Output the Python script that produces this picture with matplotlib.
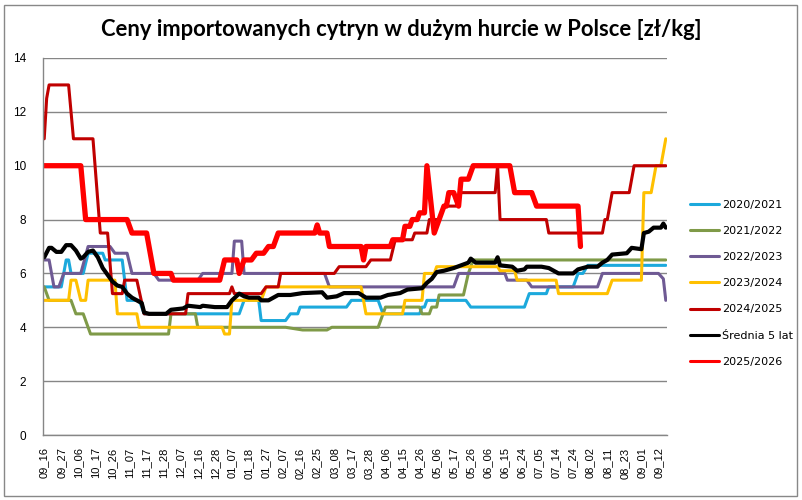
import numpy as np
import matplotlib.pyplot as plt
from matplotlib.patches import Rectangle

# x labels (every 7th point of the daily series)
labels = ["09_16", "09_27", "10_06", "10_17", "10_26", "11_07", "11_17", "11_28",
          "12_07", "12_16", "12_28", "01_07", "01_18", "01_27", "02_07", "02_16",
          "02_25", "03_08", "03_17", "03_28", "04_06", "04_15", "04_26", "05_06",
          "05_17", "05_26", "06_06", "06_15", "06_24", "07_05", "07_14", "07_24",
          "08_02", "08_11", "08_23", "09_01", "09_12"]
n_points = 256

# each series: point index where price changes, price [zl/kg]
x_2020 = [0, 7, 9, 10, 11, 16, 18, 24, 25, 32, 34, 39, 41, 80, 82, 88, 89, 99, 101, 104,
          105, 124, 126, 137, 139, 154, 155, 156, 157, 173, 175, 197, 199, 206, 207, 217,
          219, 221, 223, 255]
y_2020 = [5.5, 5.5, 6.5, 6.5, 6.0, 6.0, 6.75, 6.75, 6.5, 6.5, 5.0, 5.0, 4.5, 4.5, 5.0, 5.0,
          4.25, 4.25, 4.5, 4.5, 4.75, 4.75, 5.0, 5.0, 4.5, 4.5, 4.75, 4.75, 5.0, 5.0, 4.75,
          4.75, 5.25, 5.25, 5.5, 5.5, 6.0, 6.0, 6.3, 6.3]

x_2021 = [0, 2, 11, 13, 16, 19, 51, 52, 62, 63, 99, 106, 116, 118, 137, 140, 154, 155, 158,
          159, 161, 162, 172, 174, 176, 255]
y_2021 = [5.5, 5.0, 5.0, 4.5, 4.5, 3.75, 3.75, 4.5, 4.5, 4.0, 4.0, 3.9, 3.9, 4.0, 4.0, 4.75,
          4.75, 4.5, 4.5, 4.75, 4.75, 5.2, 5.2, 6.0, 6.5, 6.5]

x_2022 = [0, 2, 4, 6, 8, 15, 18, 27, 29, 34, 36, 45, 47, 63, 65, 77, 78, 81, 82, 115, 117,
          168, 170, 189, 190, 198, 200, 227, 229, 252, 254, 255]
y_2022 = [6.5, 6.5, 5.5, 5.5, 6.0, 6.0, 7.0, 7.0, 6.75, 6.75, 6.0, 6.0, 5.75, 5.75, 6.0, 6.0,
          7.2, 7.2, 6.0, 6.0, 5.5, 5.5, 6.0, 6.0, 5.75, 5.75, 5.5, 5.5, 6.0, 6.0, 5.8, 5.0]

x_2023 = [0, 10, 11, 13, 15, 17, 18, 29, 30, 38, 39, 73, 74, 76, 77, 89, 91, 130, 132, 147,
          148, 155, 156, 160, 161, 186, 187, 193, 194, 210, 211, 231, 233, 245, 246, 249,
          251, 253, 255]
y_2023 = [5.0, 5.0, 5.75, 5.75, 5.0, 5.0, 5.75, 5.75, 4.5, 4.5, 4.0, 4.0, 3.75, 3.75, 5.0,
          5.0, 5.5, 5.5, 4.5, 4.5, 5.0, 5.0, 6.0, 6.0, 6.25, 6.25, 6.1, 6.1, 5.75, 5.75, 5.25,
          5.25, 5.75, 5.75, 9.0, 9.0, 10.0, 10.0, 11.0]

x_2024 = [0, 1, 2, 10, 12, 20, 23, 26, 28, 32, 33, 38, 41, 58, 59, 76, 77, 78, 89, 91, 96,
          97, 119, 121, 132, 134, 142, 144, 151, 152, 157, 158, 162, 164, 169, 171, 185,
          186, 187, 206, 207, 229, 230, 231, 233, 240, 242, 255]
y_2024 = [11.0, 12.5, 13.0, 13.0, 11.0, 11.0, 7.5, 7.5, 5.25, 5.25, 5.75, 5.75, 4.5, 4.5,
          5.25, 5.25, 5.5, 5.25, 5.25, 5.5, 5.5, 6.0, 6.0, 6.25, 6.25, 6.5, 6.5, 7.25, 7.25,
          7.5, 7.5, 8.0, 8.0, 8.5, 8.5, 9.0, 9.0, 10.0, 8.0, 8.0, 7.5, 7.5, 8.0, 8.0, 9.0,
          9.0, 10.0, 10.0]

x_avg = [0, 2, 3, 5, 7, 9, 11, 13, 15, 16, 18, 20, 22, 24, 26, 28, 30, 32, 34, 36, 38, 40,
         41, 43, 50, 52, 57, 59, 64, 65, 70, 75, 77, 80, 82, 84, 88, 89, 92, 94, 96, 101,
         106, 114, 116, 120, 123, 129, 132, 138, 141, 146, 149, 155, 157, 159, 161, 164,
         168, 171, 174, 175, 177, 185, 186, 187, 192, 194, 197, 198, 204, 207, 211, 217,
         219, 223, 227, 229, 231, 233, 239, 241, 245, 246, 248, 250, 253, 254, 255]
y_avg = [6.6, 6.95, 6.95, 6.8, 6.8, 7.05, 7.05, 6.85, 6.55, 6.6, 6.8, 6.85, 6.6, 6.2, 5.95,
         5.7, 5.55, 5.5, 5.25, 5.1, 5.0, 4.9, 4.55, 4.5, 4.5, 4.65, 4.7, 4.8, 4.75, 4.8, 4.75,
         4.75, 5.0, 5.25, 5.15, 5.1, 5.1, 5.0, 5.0, 5.1, 5.2, 5.2, 5.27, 5.3, 5.1, 5.15, 5.27,
         5.27, 5.1, 5.1, 5.2, 5.27, 5.4, 5.45, 5.65, 5.8, 6.05, 6.1, 6.2, 6.3, 6.4, 6.55, 6.4,
         6.4, 6.6, 6.3, 6.25, 6.1, 6.15, 6.25, 6.25, 6.2, 6.0, 6.0, 6.15, 6.25, 6.25, 6.4,
         6.5, 6.7, 6.75, 6.95, 6.9, 7.5, 7.55, 7.7, 7.7, 7.85, 7.7]

x_2025 = [0, 15, 17, 34, 36, 42, 45, 52, 53, 72, 74, 79, 80, 82, 85, 87, 90, 92, 94, 96, 111,
          112, 113, 116, 117, 130, 131, 132, 142, 143, 147, 148, 150, 151, 153, 154, 156,
          157, 160, 162, 164, 165, 166, 168, 170, 171, 174, 176, 191, 193, 200, 202, 219, 220]
y_2025 = [10.0, 10.0, 8.0, 8.0, 7.5, 7.5, 6.0, 6.0, 5.75, 5.75, 6.5, 6.5, 6.0, 6.5, 6.5,
          6.75, 6.75, 7.0, 7.0, 7.5, 7.5, 7.8, 7.5, 7.5, 7.0, 7.0, 6.5, 7.0, 7.0, 7.25, 7.25,
          7.75, 7.75, 8.0, 8.0, 8.25, 8.25, 10.0, 7.5, 8.0, 8.5, 8.5, 9.0, 9.0, 8.5, 9.5, 9.5,
          10.0, 10.0, 9.0, 9.0, 8.5, 8.5, 7.0]

series = [
    ("2020/2021", x_2020, y_2020, "#1ca9dc", 2.2),
    ("2021/2022", x_2021, y_2021, "#7f9a48", 2.2),
    ("2022/2023", x_2022, y_2022, "#6f5a94", 2.2),
    ("2023/2024", x_2023, y_2023, "#ffc000", 2.2),
    ("2024/2025", x_2024, y_2024, "#c00000", 2.2),
    ("Średnia 5 lat", x_avg, y_avg, "black", 3.0),
    ("2025/2026", x_2025, y_2025, "#ff0000", 3.8),
]

fig = plt.figure(figsize=(8.02, 5.0), dpi=100)
ax = fig.add_axes([43 / 802, 65 / 500, 624 / 802, 377 / 500])

handles = []
for name, xs, ys, col, lw in series:
    h, = ax.plot(xs, ys, color=col, lw=lw, solid_joinstyle="round", solid_capstyle="round")
    handles.append(h)

ax.set_xlim(-0.5, n_points - 0.5)
ax.set_ylim(0, 14)
ax.set_yticks(np.arange(0, 15, 2))
ax.set_xticks(np.arange(0, len(labels) * 7, 7))
ax.set_xticklabels(labels, rotation=90, fontsize=8, family="Liberation Sans")
for t in ax.get_yticklabels():
    t.set_family("Liberation Sans")
    t.set_fontsize(8.5)
ax.tick_params(axis="x", length=0, pad=9)
ax.tick_params(axis="y", length=0, pad=12)
ax.grid(axis="y", color="#868686", lw=1)
ax.set_axisbelow(True)
for s in ["top", "right"]:
    ax.spines[s].set_visible(False)
for s in ["left", "bottom"]:
    ax.spines[s].set_color("#868686")
    ax.spines[s].set_linewidth(1)

fig.text(0.5, 0.94, "Ceny importowanych cytryn w dużym hurcie w Polsce [zł/kg]",
         ha="center", va="center", fontsize=15.8, fontweight="bold", family="Lato")

leg = fig.legend(handles, [s[0] for s in series], loc="upper left",
                 bbox_to_anchor=(680 / 802, 1 - 190 / 500), frameon=False,
                 prop={"family": "DejaVu Sans", "size": 8}, handlelength=2.6,
                 labelspacing=1.45, handletextpad=0.3)
for line in leg.get_lines():
    line.set_linewidth(2.2)

fig.patches.append(Rectangle((4 / 802, 4 / 500), 793 / 802, 491 / 500, transform=fig.transFigure,
                             fill=False, edgecolor="#888888", lw=1))

fig.savefig("out.png", dpi=100)
